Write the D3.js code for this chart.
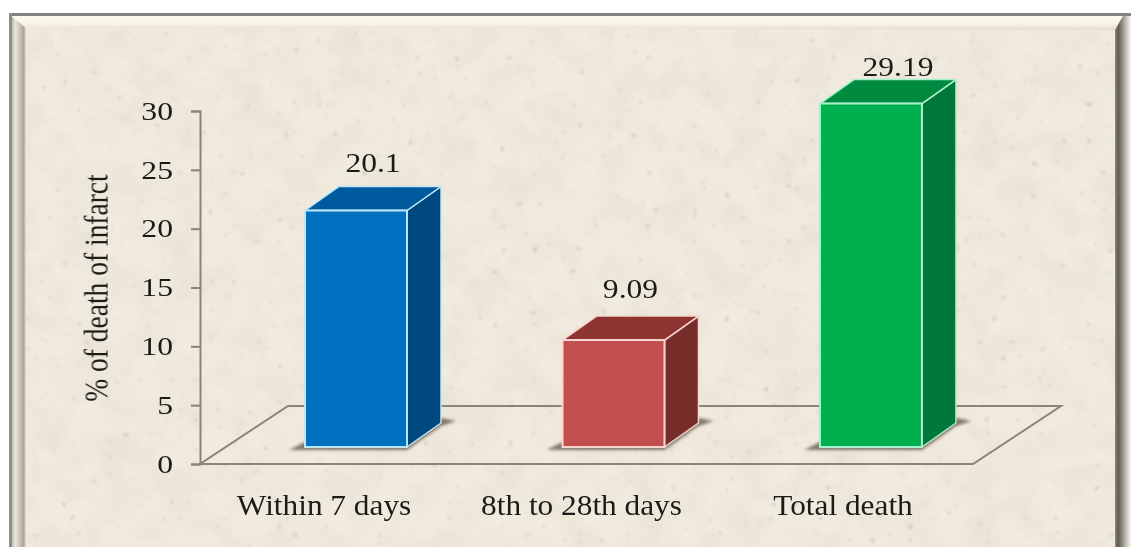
<!DOCTYPE html>
<html>
<head>
<meta charset="utf-8">
<script src="https://cdn.jsdelivr.net/npm/d3@7"></script>
<style>
    html, body { margin: 0; padding: 0; background: #fff; }
    svg { display: block; }
    text { font-family: "Liberation Serif", serif; fill: #1c1a18; }
</style>
</head>
<body>
<svg id="chart" width="1131" height="547"></svg>
<script>
const categories = ["Within 7 days", "8th to 28th days", "Total death"];
const values = [20.1, 9.09, 29.19];
const valueLabels = ["20.1", "9.09", "29.19"];
const yTicks = [0, 5, 10, 15, 20, 25, 30];
const yTitle = "% of death of infarct";

const frontColors = ["#0070c0", "#c0504d", "#00b050"];
const topColors = ["#005a9e", "#8e3432", "#008a3f"];
const sideColors = ["#004a80", "#772e2c", "#00783a"];
const edgeColors = ["#bfe6f7", "#f6d5d0", "#a8f0cc"];

// value labels do not sit evenly over the bars in the original
const labelShiftX = [17, 17, 27];
const labelLift = [38, 42, 28];
const categoryShiftX = [-32, -32, -28];

const W = 1131, H = 547;
const depth = {x: 34, y: 24};       // bar side
const floorDepth = {x: 88, y: 58};

let svg = d3.select("#chart");
let defs = svg.append("defs");

// paper texture
let paper = defs.append("filter").attr("id", "paper")
    .attr("x", 0).attr("y", 0).attr("width", "100%").attr("height", "100%");
paper.append("feTurbulence")
    .attr("type", "fractalNoise").attr("baseFrequency", 0.03).attr("numOctaves", 3)
    .attr("seed", 7).attr("result", "mottle");
paper.append("feColorMatrix").attr("in", "mottle").attr("type", "matrix")
    .attr("values", "0 0 0 0 0.70  0 0 0 0 0.65  0 0 0 0 0.55  0.7 0 0 0 -0.24")
    .attr("result", "mottleTint");
paper.append("feTurbulence")
    .attr("type", "fractalNoise").attr("baseFrequency", 0.13).attr("numOctaves", 2)
    .attr("seed", 23).attr("result", "specks");
paper.append("feColorMatrix").attr("in", "specks").attr("type", "matrix")
    .attr("values", "0 0 0 0 0.55  0 0 0 0 0.50  0 0 0 0 0.43  0 4 0 0 -2.85")
    .attr("result", "speckTint");
paper.append("feGaussianBlur").attr("in", "speckTint").attr("stdDeviation", 1).attr("result", "speckSoft");
let merge = paper.append("feMerge");
merge.append("feMergeNode").attr("in", "SourceGraphic");
merge.append("feMergeNode").attr("in", "mottleTint");
merge.append("feMergeNode").attr("in", "speckSoft");

defs.append("filter").attr("id", "soft")
    .append("feGaussianBlur").attr("stdDeviation", 0.45);
defs.append("filter").attr("id", "shadowBlur")
    .attr("x", "-20%").attr("y", "-50%").attr("width", "140%").attr("height", "200%")
    .append("feGaussianBlur").attr("stdDeviation", 1.6);

function gradient(id, x2, y2, stops) {
    let g = defs.append("linearGradient").attr("id", id)
        .attr("x1", 0).attr("y1", 0).attr("x2", x2).attr("y2", y2);
    stops.forEach(s => g.append("stop").attr("offset", s[0]).attr("stop-color", s[1]));
}
gradient("bevelTop", 0, 1, [[0, "#fdfbf2"], [0.6, "#f6f2e4"], [1, "#e4dccb"]]);
gradient("bevelLeft", 1, 0, [[0, "#b5b2a8"], [0.3, "#e9e6dc"], [0.6, "#c9c3b4"], [0.85, "#aaa394"], [1, "#ece6da"]]);
gradient("bevelRight", 1, 0, [[0, "#8d887c"], [0.2, "#5f5b52"], [0.55, "#a5a196"], [0.8, "#d9d6cd"], [1, "#f6f5f1"]]);

// background and frame
let frame = svg.append("g");
frame.append("rect").attr("width", W).attr("height", H).attr("fill", "#fff");
frame.append("rect")
    .attr("x", 11).attr("y", 16).attr("width", 1110).attr("height", H - 16)
    .attr("fill", "#f1ebdf").attr("filter", "url(#paper)");
frame.append("polygon")
    .attr("points", "11,16 1131,16 1131,27 1115,30 26,27")
    .attr("fill", "url(#bevelTop)");
frame.append("polygon")
    .attr("points", "11,16 26,28 26,547 11,547")
    .attr("fill", "url(#bevelLeft)");
frame.append("polygon")
    .attr("points", "1115,30 1123,16 1131,16 1131,547 1115,547")
    .attr("fill", "url(#bevelRight)");
frame.append("rect").attr("x", 9).attr("y", 13).attr("width", W - 9).attr("height", 3).attr("fill", "#85837d");
frame.append("rect").attr("x", 9).attr("y", 13).attr("width", 3).attr("height", H - 13).attr("fill", "#8f8d87");

let g = svg.append("g").attr("filter", "url(#soft)");

let y_scale = d3.scaleLinear().domain([0, 30]).range([464, 111]);
let floor_y = y_scale(0) - 17;   // bars stand 17px behind the front of the floor

let x_scale = d3.scaleBand()
    .domain(categories)
    .range([200, 1027])
    .paddingInner(0.604)
    .paddingOuter(0.408);

// floor
let floorRight = 973;
g.append("path")
    .attr("d", d3.line()([
        [x_scale.range()[0], y_scale(0)],
        [floorRight, y_scale(0)],
        [floorRight + floorDepth.x, y_scale(0) - floorDepth.y],
        [x_scale.range()[0] + floorDepth.x, y_scale(0) - floorDepth.y],
    ]) + "Z")
    .attr("fill", "none")
    .attr("stroke", "#8a8478")
    .attr("stroke-width", 2);

// y axis
let axisStretch = 1.22;
let yAxis = g.append("g")
    .attr("transform", `translate(${x_scale.range()[0]},0)`)
    .call(d3.axisLeft(y_scale).tickValues(yTicks).tickSize(9).tickSizeOuter(9).tickPadding(18));
yAxis.selectAll("path, line").attr("stroke", "#8a8478").attr("stroke-width", 2);
yAxis.selectAll("text")
    .attr("font-size", 26)
    .attr("font-family", "Liberation Serif")
    .attr("fill", "#1c1a18")
    .attr("x", -27 / axisStretch)
    .attr("transform", `scale(${axisStretch},1)`);

// y title
g.append("text")
    .attr("transform", "translate(108,288) rotate(-90) scale(1,1.2)")
    .attr("text-anchor", "middle")
    .attr("font-size", 27.5)
    .text(yTitle);

// bars
values.forEach((v, i) => {
    let x0 = x_scale(categories[i]);
    let x1 = x0 + x_scale.bandwidth();
    let top = floor_y - (y_scale(0) - y_scale(v));
    let edge = edgeColors[i];
    let dx = depth.x, dy = depth.y;

    g.append("polygon")
        .attr("points", [
            [x0 - 16, floor_y + 3], [x1, floor_y + 3],
            [x1 + dx, floor_y - dy + 3], [x1 + dx + 15, floor_y - dy - 2],
            [x1 + dx, floor_y - dy - 5], [x0, floor_y - 5],
        ].join(" "))
        .attr("fill", "#6f6252")
        .attr("opacity", 0.85)
        .attr("filter", "url(#shadowBlur)");

    g.append("polygon")
        .attr("points", [[x1, top], [x1 + dx, top - dy], [x1 + dx, floor_y - dy], [x1, floor_y]].join(" "))
        .attr("fill", sideColors[i]).attr("stroke", edge).attr("stroke-width", 1.5)
        .attr("stroke-linejoin", "round");
    g.append("polygon")
        .attr("points", [[x0, top], [x0 + dx, top - dy], [x1 + dx, top - dy], [x1, top]].join(" "))
        .attr("fill", topColors[i]).attr("stroke", edge).attr("stroke-width", 1.5)
        .attr("stroke-linejoin", "round");
    g.append("rect")
        .attr("x", x0).attr("y", top)
        .attr("width", x_scale.bandwidth()).attr("height", floor_y - top)
        .attr("fill", frontColors[i]).attr("stroke", edge).attr("stroke-width", 2);

    // value label
    let lx = (x0 + x1) / 2 + labelShiftX[i];
    g.append("text")
        .attr("transform", `translate(${lx},${top - labelLift[i]}) scale(1.17,1)`)
        .attr("text-anchor", "middle")
        .attr("font-size", 27)
        .text(valueLabels[i]);

    // category label
    let cx = (x0 + x1) / 2 + categoryShiftX[i];
    g.append("text")
        .attr("transform", `translate(${cx},515) scale(1.08,1)`)
        .attr("text-anchor", "middle")
        .attr("font-size", 29)
        .text(categories[i]);
});
</script>
</body>
</html>
